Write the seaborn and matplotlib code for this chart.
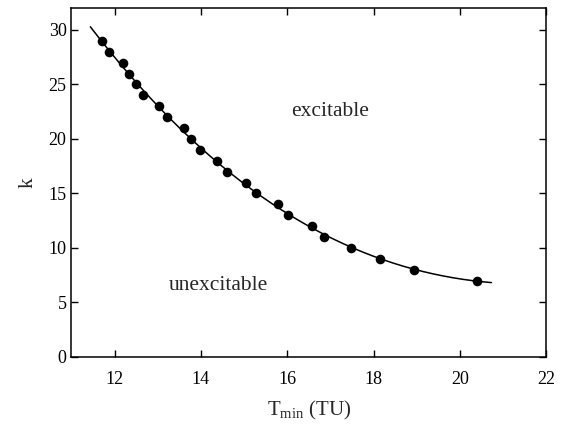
#!/usr/bin/env python3
"""Excitability boundary: minimum period T_min against coupling k."""

import matplotlib
matplotlib.use("Agg")
import matplotlib.pyplot as plt
import numpy as np
import pandas as pd
import seaborn as sns


# points
T_MIN = [11.72, 11.88, 12.19, 12.33, 12.49, 12.67, 13.02, 13.21, 13.60, 13.77,
         13.98, 14.37, 14.60, 15.05, 15.28, 15.79, 16.02, 16.58, 16.86, 17.47,
         18.16, 18.93, 20.40]
K_VALUES = [29, 28, 27, 26, 25, 24, 23, 22, 21, 20, 19, 18, 17, 16, 15, 14,
            13, 12, 11, 10, 9, 8, 7]
FIT_RANGE = [11.44, 20.73]
X_TICKS = [12, 14, 16, 18, 20, 22]
Y_TICKS = [0, 5, 10, 15, 20, 25, 30]

OUTPUT_PATH = "out.png"


def main() -> None:
    sns.set_theme(style="ticks")
    plt.rcParams["font.family"] = ["Liberation Serif", "DejaVu Serif"]
    plt.rcParams["mathtext.fontset"] = "custom"
    plt.rcParams["mathtext.rm"] = "Liberation Serif"
    plt.rcParams["mathtext.it"] = "Liberation Serif:italic"

    df = pd.DataFrame({"T": T_MIN, "k": K_VALUES})

    # smooth fitted boundary through the measured points
    coeffs = np.polyfit(df["T"], df["k"], 3)
    t_fit = np.linspace(FIT_RANGE[0], FIT_RANGE[1], 200)
    fit = pd.DataFrame({"T": t_fit, "k": np.polyval(coeffs, t_fit)})

    fig = plt.figure(figsize=(5.62, 4.28), dpi=100)
    ax = fig.add_axes([0.127, 0.166, 0.845, 0.815])

    sns.lineplot(data=fit, x="T", y="k", ax=ax, color="black", linewidth=1.1)
    sns.scatterplot(data=df, x="T", y="k", ax=ax, color="black", s=48,
                    edgecolor="black", linewidth=0, zorder=3)

    ax.set_xlim(11, 22)
    ax.set_ylim(0, 32)
    ax.set_xticks(X_TICKS)
    ax.set_yticks(Y_TICKS)
    ax.tick_params(direction="in", top=True, right=True, length=5, width=1,
                   labelsize=13, colors="black")
    ax.tick_params(axis="x", pad=10)
    for spine in ax.spines.values():
        spine.set_visible(True)
        spine.set_linewidth(1.1)
        spine.set_color("black")

    ax.set_xlabel(r"T$_{\mathrm{min}}$ (TU)", fontsize=15, labelpad=8)
    ax.set_ylabel("k", fontsize=15, labelpad=8)

    ax.text(17.0, 22.5, "excitable", fontsize=15.5, ha="center", va="center")
    ax.text(14.4, 6.6, "unexcitable", fontsize=15.5, ha="center", va="center")

    fig.savefig(OUTPUT_PATH, dpi=100)
    plt.close(fig)


if __name__ == "__main__":
    main()
